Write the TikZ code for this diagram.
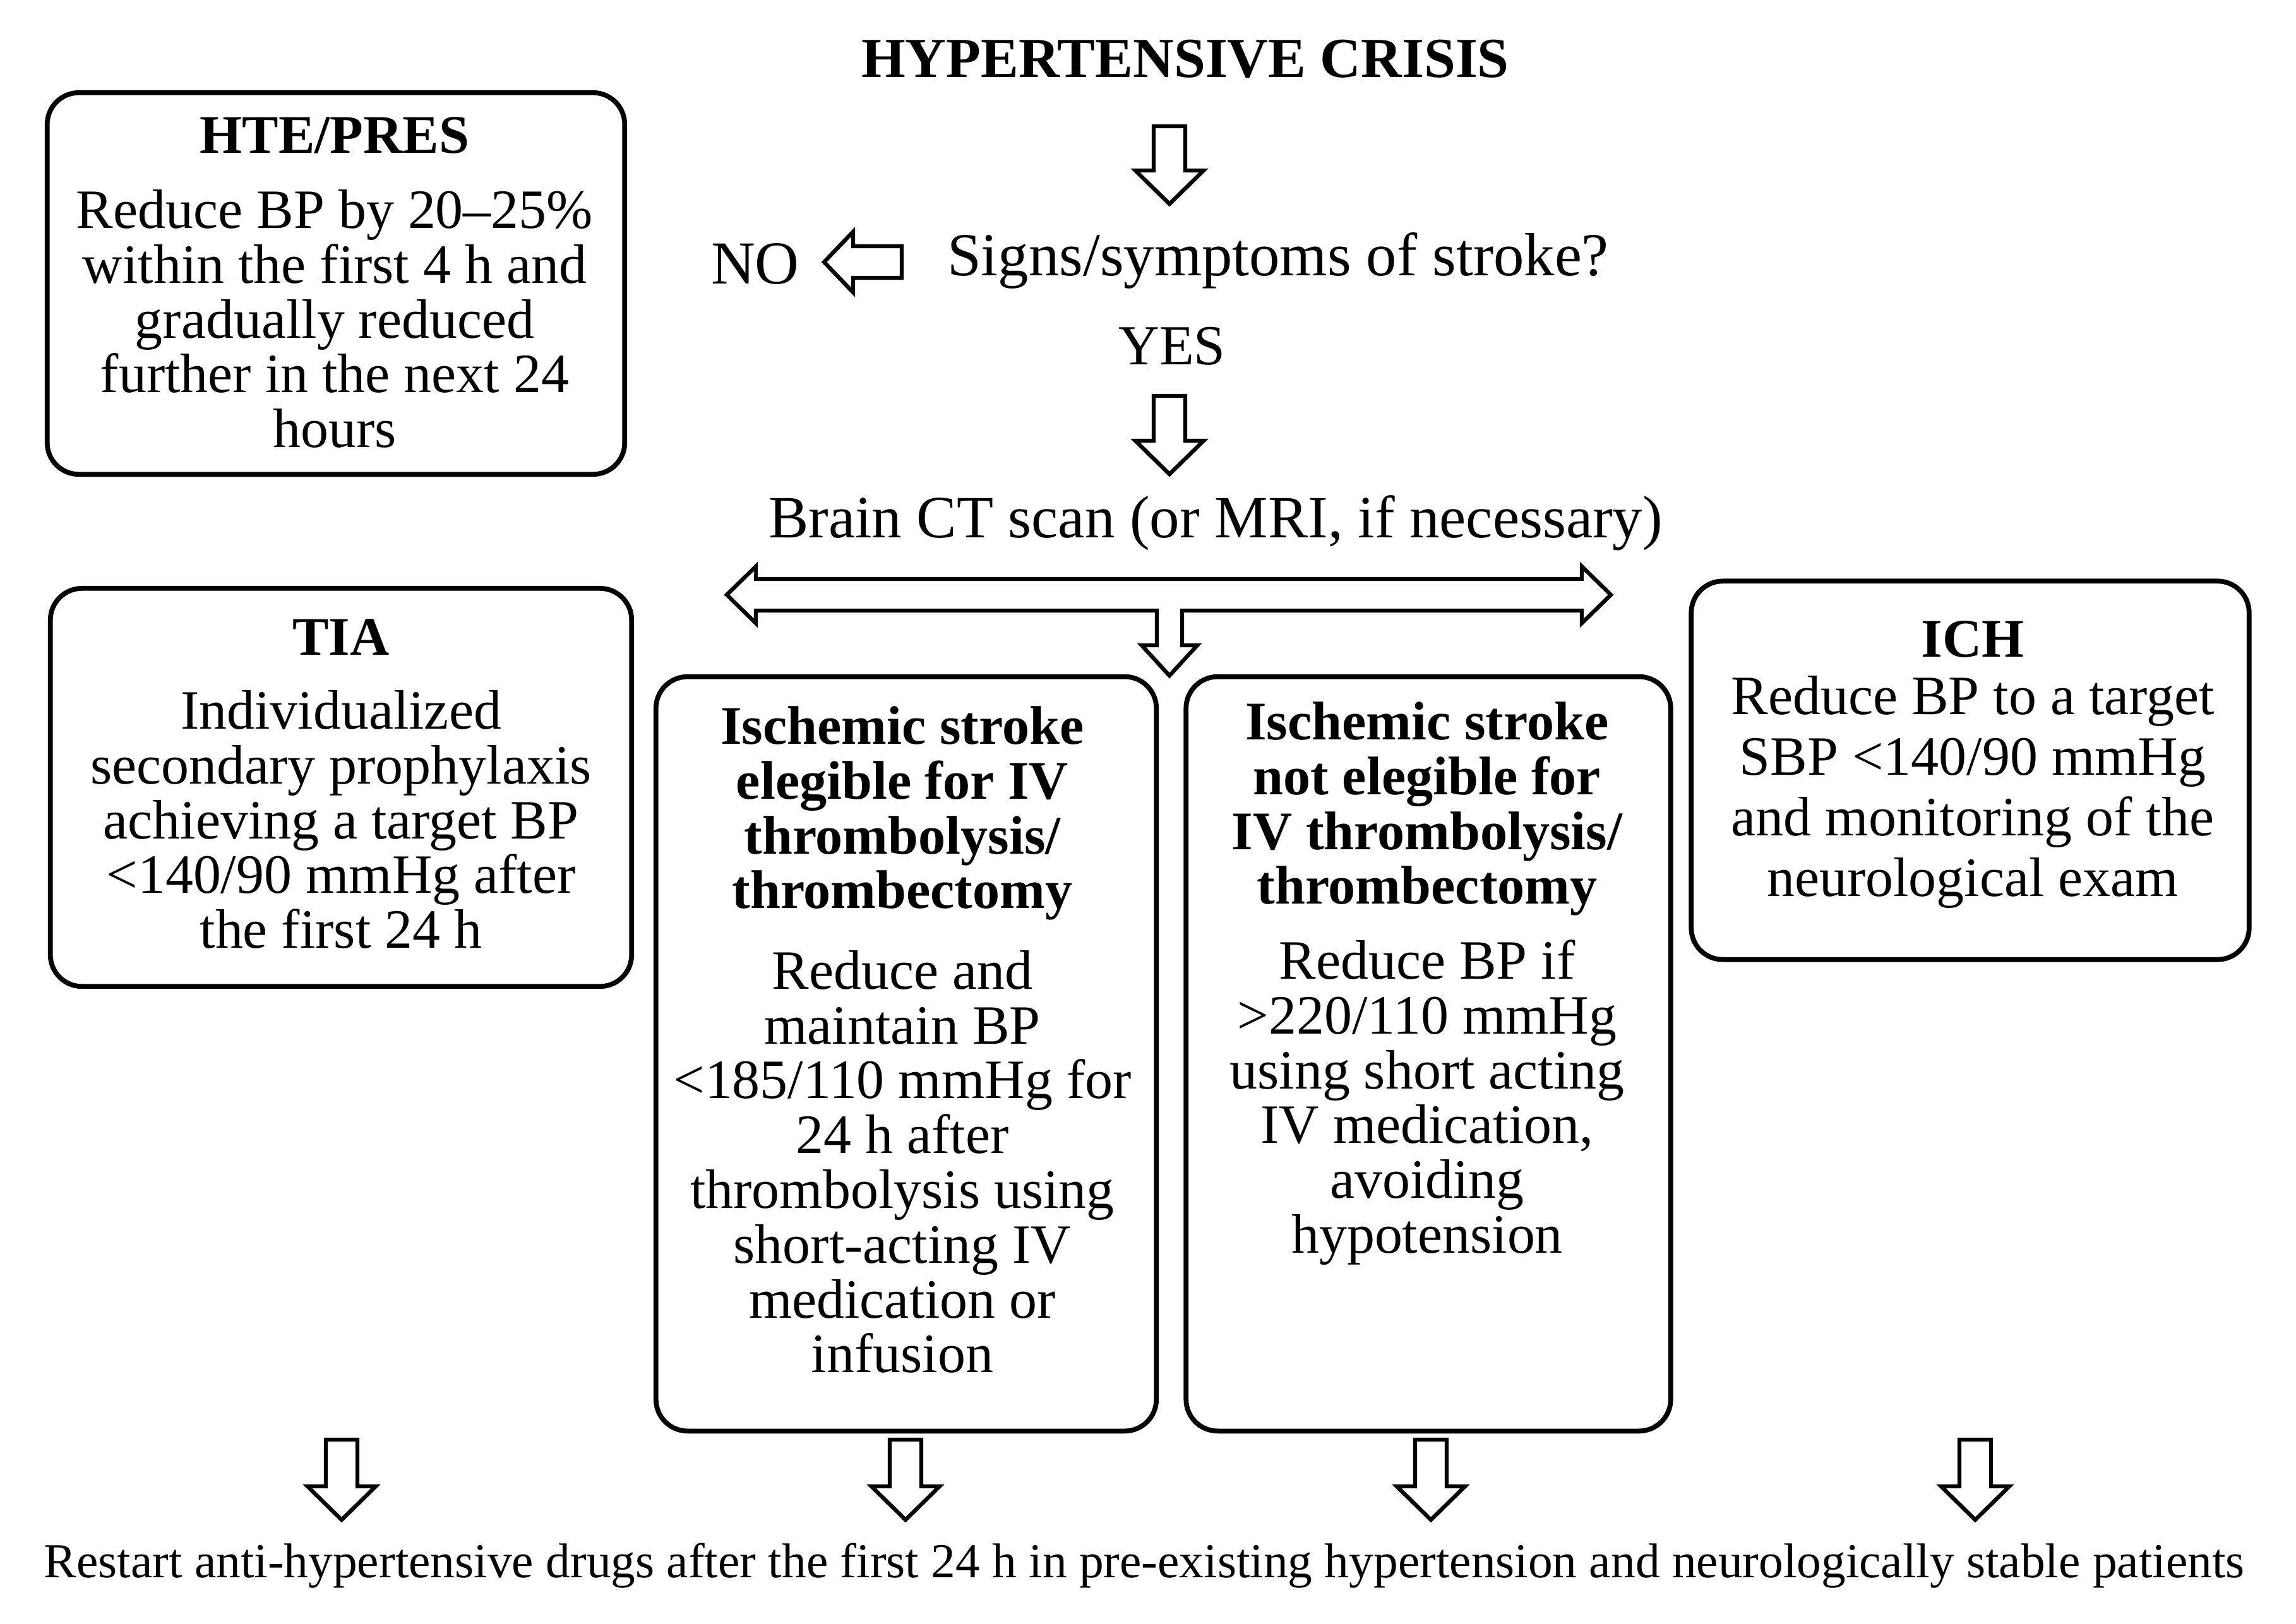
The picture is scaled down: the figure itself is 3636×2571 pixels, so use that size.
\documentclass[tikz,border=0pt]{standalone}
\usepackage{fontspec}
\setmainfont{Liberation Serif}
\usetikzlibrary{calc}
\tikzset{
  boxstyle/.style={draw, line width=2.2pt, rounded corners=0.5cm, inner sep=0pt},
  txt/.style={align=center, inner sep=0pt, font=\fontsize{25}{24.67}\selectfont},
  bigtxt/.style={align=center, inner sep=0pt, font=\fontsize{27.5}{30}\selectfont},
  txtwide/.style={align=center, inner sep=0pt, font=\fontsize{25}{27.3}\selectfont},
  ttl/.style={align=center, inner sep=0pt, font=\fontsize{24.5}{24.67}\selectfont\bfseries},
  blockarrow/.style={draw, fill=white, line width=1.8pt, line join=miter},
}
\newcommand{\blkdown}[3]{\draw[blockarrow] ({#1-25},#2) -- ({#1+25},#2) -- ({#1+25},{#3-53}) -- ({#1+54},{#3-53}) -- (#1,#3) -- ({#1-54},{#3-53}) -- ({#1-25},{#3-53}) -- cycle;}
\begin{document}
\begin{tikzpicture}[x=0.01cm,y=-0.01cm]
\fill[white] (0,0) rectangle (3636,2571);
\useasboundingbox (0,0) rectangle (3636,2571);

% title and decision
\node[ttl, font=\fontsize{25.5}{27}\selectfont\bfseries] (title) at (1877,93) {HYPERTENSIVE CRISIS};
\node[bigtxt] (signs) at (2024,413) {Signs/symptoms of stroke?};
\node[bigtxt] (no) at (1196,418) {NO};
\node[txt, font=\fontsize{25.5}{27}\selectfont] (yes) at (1856,548) {YES};
\node[bigtxt, font=\fontsize{27}{30}\selectfont] (ct) at (1925,828) {Brain CT scan (or MRI, if necessary)};

% block arrows
\blkdown{1852}{200}{323}
\blkdown{1852}{627}{751}
\draw[blockarrow] (1428,390) -- (1428,440) -- (1351,440) -- (1351,463) -- (1305,415) -- (1351,367) -- (1351,390) -- cycle;
\draw[blockarrow] (1151,942) -- (1197,897) -- (1197,917) -- (2505,917) -- (2505,897) -- (2551,942) -- (2505,987) -- (2505,967) -- (1872,967) -- (1872,1022) -- (1896,1022) -- (1852,1070) -- (1808,1022) -- (1832,1022) -- (1832,967) -- (1197,967) -- (1197,987) -- cycle;

% boxes
\node[boxstyle, minimum width=9.14cm, minimum height=6.04cm] (hte) at (532,449) {};
\node[boxstyle, minimum width=9.20cm, minimum height=6.30cm] (tia) at (540,1247) {};
\node[boxstyle, minimum width=7.92cm, minimum height=11.94cm] (elig) at (1435,1669) {};
\node[boxstyle, minimum width=7.67cm, minimum height=11.94cm] (nelig) at (2262,1669) {};
\node[boxstyle, minimum width=8.83cm, minimum height=5.99cm] (ich) at (3120,1220) {};

% box texts
\node[ttl] (hteT) at (530,214) {HTE/PRES};
\node[txt] (hteB) at (530,505) {Reduce BP by 20–25\%\\within the first 4 h and\\gradually reduced\\further in the next 24\\hours};

\node[ttl] (tiaT) at (540,1009) {TIA};
\node[txt] (tiaB) at (540,1298) {Individualized\\secondary prophylaxis\\achieving a target BP\\<140/90 mmHg after\\the first 24 h};

\node[ttl] (eligT) at (1429,1288) {Ischemic stroke\\elegible for IV\\thrombolysis/\\thrombectomy};
\node[txt] (eligB) at (1429,1840) {Reduce and\\maintain BP\\<185/110 mmHg for\\24 h after\\thrombolysis using\\short-acting IV\\medication or\\infusion};

\node[ttl] (neligT) at (2260,1281) {Ischemic stroke\\not elegible for\\IV thrombolysis/\\thrombectomy};
\node[txt] (neligB) at (2260,1746) {Reduce BP if\\>220/110 mmHg\\using short acting\\IV medication,\\avoiding\\hypotension};

\node[ttl] (ichT) at (3124,1012) {ICH};
\node[txtwide] (ichB) at (3124,1254) {Reduce BP to a target\\SBP <140/90 mmHg\\and monitoring of the\\neurological exam};

% bottom
\blkdown{541}{2280}{2407}
\blkdown{1434}{2280}{2407}
\blkdown{2266}{2280}{2407}
\blkdown{3128}{2280}{2407}
\node[align=center, inner sep=0pt, font=\fontsize{22}{24}\selectfont] (restart) at (1812,2480) {Restart anti-hypertensive drugs after the first 24 h in pre-existing hypertension and neurologically stable patients};
\end{tikzpicture}
\end{document}
